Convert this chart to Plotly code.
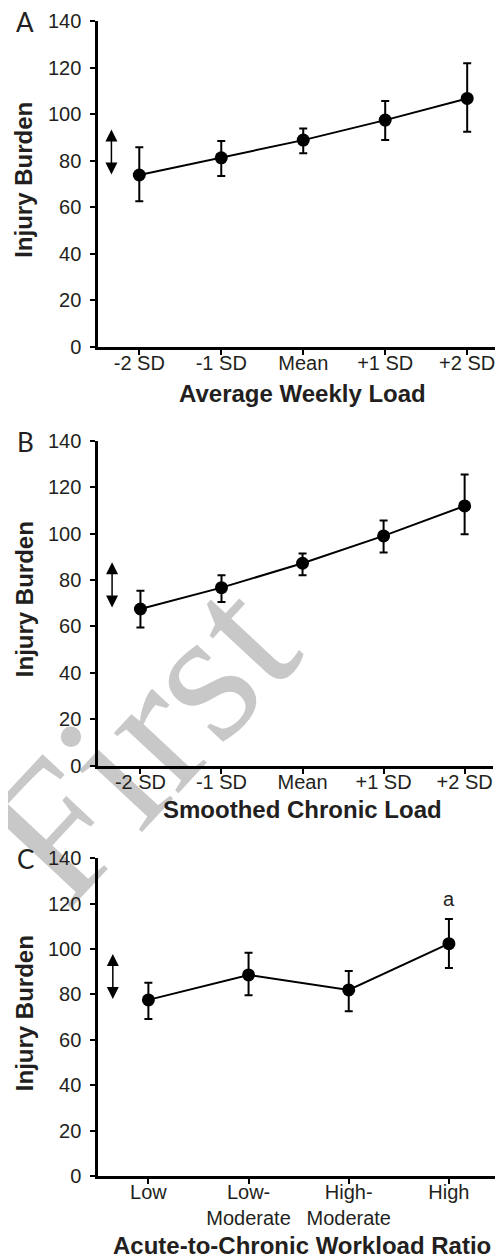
import plotly.graph_objects as go

# ---------------- data ----------------
sd_labels = ["-2 SD", "-1 SD", "Mean", "+1 SD", "+2 SD"]
acwr_labels = ["Low", "Low-<br>Moderate", "High-<br>Moderate", "High"]
y_ticks = [0, 20, 40, 60, 80, 100, 120, 140]

a_mean = [73.8, 81.2, 88.8, 97.4, 106.7]
a_upper = [85.7, 88.4, 93.8, 105.6, 121.8]
a_lower = [62.5, 73.4, 83.2, 88.8, 92.4]

b_mean = [67.5, 76.7, 87.2, 99.0, 111.9]
b_upper = [75.4, 82.0, 91.4, 105.6, 125.4]
b_lower = [59.5, 70.5, 82.0, 91.8, 99.7]

c_mean = [77.6, 88.6, 82.0, 102.4]
c_upper = [85.2, 98.4, 90.3, 113.3]
c_lower = [69.2, 79.6, 72.6, 91.7]

# scale arrows (bottom, top) per panel
arrow_a = [73.4, 93.4]
arrow_b = [67.5, 87.6]
arrow_c = [77.3, 97.8]

c_letter_value = 122  # "a" label height in panel C

x_titles = ["Average Weekly Load", "Smoothed Chronic Load", "Acute-to-Chronic Workload Ratio"]
y_title = "Injury Burden"
panel_letters = ["A", "B", "C"]
watermark = "First"

# ---------------- layout helpers ----------------
# the page body has an 8px margin, so the figure is placed 8px in from the
# window's corner; positions below are given in window pixels.
OFF = 8
VW, VH = 503, 1258
W, H = VW - OFF, VH - OFF
def px(x):
    return (x - OFF) / W
def py(y):
    return 1 - (y - OFF) / H

TXT = "#231f20"
TICKFONT = dict(family="Liberation Sans, Arial, sans-serif", size=20, color=TXT)
TITLEFONT = dict(family="Liberation Sans, Arial, sans-serif", size=24, color=TXT)

fig = go.Figure()

panels = [
    dict(mean=a_mean, up=a_upper, lo=a_lower, labels=sd_labels, arrow=arrow_a,
         xd=(98.3, 496.7), yd=(346.7, 21.0), xr=(-0.5, 4.36), arrow_x=-0.34,
         title_y=393, letter_y=21),
    dict(mean=b_mean, up=b_upper, lo=b_lower, labels=sd_labels, arrow=arrow_b,
         xd=(98.3, 493.0), yd=(765.7, 440.7), xr=(-0.52, 4.35), arrow_x=-0.35,
         title_y=810, letter_y=441),
    dict(mean=c_mean, up=c_upper, lo=c_lower, labels=acwr_labels, arrow=arrow_c,
         xd=(98.3, 497.0), yd=(1176.0, 858.3), xr=(-0.5, 3.48), arrow_x=-0.355,
         title_y=1245, letter_y=858),
]

annotations = []
for i, p in enumerate(panels):
    n = i + 1
    xa = "x" if n == 1 else f"x{n}"
    ya = "y" if n == 1 else f"y{n}"
    xs = list(range(len(p["mean"])))
    plus = [u - m for u, m in zip(p["up"], p["mean"])]
    minus = [m - l for m, l in zip(p["mean"], p["lo"])]
    fig.add_trace(go.Scatter(
        x=xs, y=p["mean"], xaxis=xa, yaxis=ya, mode="lines+markers",
        line=dict(color="black", width=2),
        marker=dict(color="black", size=13),
        error_y=dict(type="data", symmetric=False, array=plus, arrayminus=minus,
                     color="black", thickness=2, width=4),
        showlegend=False, hoverinfo="skip", cliponaxis=False))

    axx = dict(domain=[px(p["xd"][0]), px(p["xd"][1])], range=list(p["xr"]),
               anchor=ya, showline=True, linecolor="black", linewidth=3,
               ticks="outside", ticklen=5, tickwidth=1.5, tickcolor="black",
               tickvals=xs, ticktext=p["labels"], tickfont=TICKFONT,
               ticklabelstandoff=-9,
               showgrid=False, zeroline=False, fixedrange=True, automargin=False)
    axy = dict(domain=[py(p["yd"][0]), py(p["yd"][1])], range=[0, 140],
               anchor=xa, showline=True, linecolor="black", linewidth=3,
               ticks="outside", ticklen=5, tickwidth=1.5, tickcolor="black",
               tickvals=y_ticks, tickfont=TICKFONT, ticklabelstandoff=5,
               showgrid=False, zeroline=False, fixedrange=True, automargin=False)
    fig.update_layout({("xaxis" if n == 1 else f"xaxis{n}"): axx,
                       ("yaxis" if n == 1 else f"yaxis{n}"): axy})

    # double-headed scale arrow
    annotations.append(dict(
        x=p["arrow_x"], y=p["arrow"][1], ax=p["arrow_x"], ay=p["arrow"][0],
        xref=xa, yref=ya, axref=xa, ayref=ya, text="", showarrow=True,
        arrowhead=2, startarrowhead=2, arrowside="end+start",
        arrowwidth=1.5, arrowsize=1.6, startarrowsize=1.6, arrowcolor="black",
        standoff=0, startstandoff=0))

    # axis titles
    annotations.append(dict(
        x=px(302), y=py(p["title_y"]), xref="paper", yref="paper",
        text=f"<b>{x_titles[i]}</b>", showarrow=False, font=TITLEFONT,
        xanchor="center", yanchor="middle"))
    annotations.append(dict(
        x=px(24), y=py((p["yd"][0] + p["yd"][1]) / 2 - 4), xref="paper", yref="paper",
        text=f"<b>{y_title}</b>", showarrow=False, font=TITLEFONT, textangle=-90,
        xanchor="center", yanchor="middle"))
    # panel letter
    annotations.append(dict(
        x=px(25), y=py(p["letter_y"] + 1), xref="paper", yref="paper",
        text=panel_letters[i], showarrow=False,
        font=dict(family="Lato, Open Sans, sans-serif", size=26, color=TXT),
        xanchor="center", yanchor="middle"))

# significance letter in panel C
annotations.append(dict(x=3, y=c_letter_value, xref="x3", yref="y3", text="a",
                        showarrow=False, font=TICKFONT, yanchor="middle"))

# watermark behind everything
cx, cy = 124, 726
shapes = [dict(type="rect", xref="paper", yref="paper",
               x0=px(cx - 20), x1=px(cx + 20), y0=py(cy + 20), y1=py(cy - 20),
               line=dict(width=0, color="rgba(0,0,0,0)"), fillcolor="rgba(0,0,0,0)",
               layer="below",
               label=dict(text=watermark, textangle=-47, textposition="middle center",
                          font=dict(family="Liberation Serif, serif", size=192,
                                    color="#c8c8c8")))]

fig.update_layout(template="none", width=W, height=H,
                  margin=dict(l=0, r=0, t=0, b=0, pad=0),
                  paper_bgcolor="white", plot_bgcolor="rgba(0,0,0,0)",
                  autosize=False, annotations=annotations, shapes=shapes,
                  showlegend=False)

fig.write_html("out.html")
